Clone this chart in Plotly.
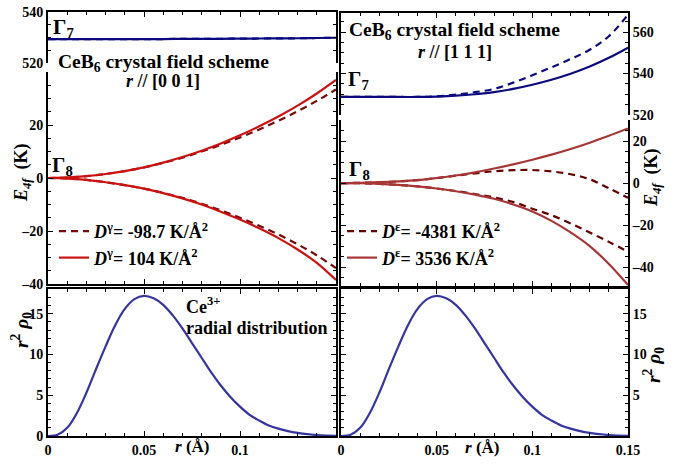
import plotly.graph_objects as go

# ---------------- data ----------------
r_cf = [0.0, 0.01, 0.02, 0.03, 0.04, 0.05, 0.06, 0.07, 0.08, 0.09, 0.10, 0.11, 0.12, 0.13, 0.14, 0.15]

# [0 0 1] direction, Gamma_8 branches (K)
g8_001_up_pos = [0, 0.2, 0.7, 1.5, 2.6, 4.0, 5.8, 7.9, 10.3, 13.0, 16.1, 19.5, 23.2, 27.3, 31.9, 37.0]
g8_001_lo_pos = [0, -0.2, -0.7, -1.6, -2.7, -4.0, -5.7, -7.7, -10.0, -12.7, -15.7, -19.0, -22.7, -27.0, -32.0, -38.5]
g8_001_up_neg = [0, 0.2, 0.7, 1.5, 2.6, 4.0, 5.7, 7.7, 10.0, 12.5, 15.3, 18.3, 21.6, 25.2, 29.1, 33.4]
g8_001_lo_neg = [0, -0.2, -0.7, -1.6, -2.7, -4.0, -5.6, -7.5, -9.7, -12.2, -15.0, -18.0, -21.3, -25.0, -29.2, -34.0]
# [0 0 1] direction, Gamma_7 (K)
g7_001_pos = [529.4, 529.4, 529.4, 529.4, 529.4, 529.4, 529.4, 529.45, 529.5, 529.5, 529.55, 529.6, 529.65, 529.7, 529.8, 529.9]
g7_001_neg = [529.4, 529.4, 529.4, 529.4, 529.4, 529.4, 529.4, 529.45, 529.5, 529.5, 529.55, 529.6, 529.65, 529.7, 529.8, 529.9]

# [1 1 1] direction, Gamma_8 branches (K)
g8_111_up_pos = [0, 0.1, 0.4, 0.8, 1.4, 2.4, 3.6, 5.1, 6.9, 8.9, 11.1, 13.5, 16.2, 19.2, 22.5, 26.0]
g8_111_lo_pos = [0, -0.1, -0.4, -0.9, -1.6, -2.6, -3.9, -5.5, -7.5, -10.2, -13.5, -18.0, -23.5, -30.0, -38.5, -48.5]
g8_111_up_neg = [0, 0.1, 0.4, 0.8, 1.4, 2.4, 3.5, 4.6, 5.6, 6.1, 6.2, 5.5, 4.2, 1.8, -2.5, -7.0]
g8_111_lo_neg = [0, -0.1, -0.4, -0.9, -1.6, -2.6, -3.8, -5.2, -6.9, -9.0, -12.2, -15.3, -19.2, -23.5, -28.0, -32.7]
# [1 1 1] direction, Gamma_7 (K)
g7_111_pos = [528.7, 528.7, 528.7, 528.7, 528.7, 528.9, 529.3, 530.0, 531.0, 532.6, 534.6, 537.0, 539.9, 543.4, 547.6, 552.5]
g7_111_neg = [528.7, 528.7, 528.7, 528.7, 528.7, 529.0, 529.8, 531.0, 532.6, 535.6, 539.2, 543.0, 547.0, 551.5, 558.0, 568.4]

# Ce3+ radial distribution
r_rad = [0.0, 0.005, 0.01, 0.015, 0.02, 0.025, 0.03, 0.035, 0.04, 0.045, 0.05, 0.055, 0.06, 0.065, 0.07,
         0.075, 0.08, 0.085, 0.09, 0.095, 0.10, 0.105, 0.11, 0.115, 0.12, 0.125, 0.13, 0.135, 0.14, 0.145, 0.15]
rho = [0.0, 0.15, 1.0, 2.8, 5.3, 8.2, 11.0, 13.6, 15.6, 16.8, 17.2, 16.9, 16.1, 14.8, 13.2,
       11.4, 9.6, 7.8, 6.2, 4.8, 3.6, 2.6, 1.9, 1.3, 0.9, 0.6, 0.38, 0.22, 0.12, 0.06, 0.03]

x_ticks_left = [0, 0.05, 0.1]
x_ticks_right = [0, 0.05, 0.1, 0.15]

label_001_neg = "<i>D</i><sup>γ</sup>= -98.7 K/Å<sup>2</sup>"
label_001_pos = "<i>D</i><sup>γ</sup>= 104 K/Å<sup>2</sup>"
label_111_neg = "<i>D</i><sup>ε</sup>= -4381 K/Å<sup>2</sup>"
label_111_pos = "<i>D</i><sup>ε</sup>= 3536 K/Å<sup>2</sup>"

# ---------------- styles ----------------
FONT = "Liberation Serif"
NAVY = "#0a0a7e"
RED = "#cc1111"
DRED = "#7a0a0a"
BRN = "#a83636"
DBRN = "#650000"
BLUE = "#3535a0"
LW = 2.2
DASH = "7px,5px"

W, H = 684, 464


def px(x):
    return x / W


def py(y):
    return 1 - y / H


fig = go.Figure()


def branches(r, up, lo):
    return list(r) + [None] + list(r), list(up) + [None] + list(lo)


# top-left Gamma7
fig.add_trace(go.Scatter(x=r_cf, y=g7_001_pos, mode="lines", line=dict(color=NAVY, width=LW, shape="spline"),
                         showlegend=False, xaxis="x", yaxis="y"))
fig.add_trace(go.Scatter(x=r_cf, y=g7_001_neg, mode="lines", line=dict(color=NAVY, width=LW, dash=DASH, shape="spline"),
                         showlegend=False, xaxis="x", yaxis="y"))
# top-left Gamma8
xx, yy = branches(r_cf, g8_001_up_neg, g8_001_lo_neg)
fig.add_trace(go.Scatter(x=xx, y=yy, mode="lines", name=label_001_neg, legend="legend",
                         line=dict(color=DRED, width=LW, dash=DASH, shape="spline"), xaxis="x2", yaxis="y2"))
xx, yy = branches(r_cf, g8_001_up_pos, g8_001_lo_pos)
fig.add_trace(go.Scatter(x=xx, y=yy, mode="lines", name=label_001_pos, legend="legend",
                         line=dict(color=RED, width=LW, shape="spline"), xaxis="x2", yaxis="y2"))
# bottom-left
fig.add_trace(go.Scatter(x=r_rad, y=rho, mode="lines", line=dict(color=BLUE, width=LW, shape="spline"),
                         showlegend=False, xaxis="x3", yaxis="y3"))
# top-right Gamma7
fig.add_trace(go.Scatter(x=r_cf, y=g7_111_pos, mode="lines", line=dict(color=NAVY, width=LW, shape="spline"),
                         showlegend=False, xaxis="x4", yaxis="y4"))
fig.add_trace(go.Scatter(x=r_cf, y=g7_111_neg, mode="lines", line=dict(color=NAVY, width=LW, dash=DASH, shape="spline"),
                         showlegend=False, xaxis="x4", yaxis="y4"))
# top-right Gamma8
xx, yy = branches(r_cf, g8_111_up_neg, g8_111_lo_neg)
fig.add_trace(go.Scatter(x=xx, y=yy, mode="lines", name=label_111_neg, legend="legend2",
                         line=dict(color=DBRN, width=LW, dash=DASH, shape="spline"), xaxis="x5", yaxis="y5"))
xx, yy = branches(r_cf, g8_111_up_pos, g8_111_lo_pos)
fig.add_trace(go.Scatter(x=xx, y=yy, mode="lines", name=label_111_pos, legend="legend2",
                         line=dict(color=BRN, width=LW, shape="spline"), xaxis="x5", yaxis="y5"))
# bottom-right
fig.add_trace(go.Scatter(x=r_rad, y=rho, mode="lines", line=dict(color=BLUE, width=LW, shape="spline"),
                         showlegend=False, xaxis="x6", yaxis="y6"))

tickfont = dict(family=FONT, size=14, color="black", weight="bold")


def xax(domain, side="bottom", mirror=False, labels=False, tickvals=None):
    d = dict(domain=domain, range=[0, 0.15], side=side, showline=True, linewidth=2, linecolor="black",
             mirror=mirror, ticks="inside", ticklen=5, tickwidth=1.2, tickcolor="black",
             showgrid=False, zeroline=False, tickmode="array", automargin=False,
             tickvals=tickvals if tickvals is not None else [0, 0.05, 0.1, 0.15],
             showticklabels=labels, tickfont=tickfont,
             minor=dict(ticks="inside", ticklen=3, tickwidth=1, tickcolor="black", tickmode="linear",
                        tick0=0, dtick=0.01, showgrid=False))
    if tickvals is not None:
        d["ticktext"] = [("%g" % v) for v in tickvals]
    return d


def yax(domain, rng, tickvals, minor_dtick, side="left", anchor="x"):
    return dict(domain=domain, range=rng, side=side, anchor=anchor, showline=True, linewidth=2,
                linecolor="black", mirror="allticks", ticks="inside", ticklen=5, tickwidth=1.2,
                tickcolor="black", showgrid=False, zeroline=False, tickmode="array", tickvals=tickvals,
                automargin=False,
                ticktext=[("%g" % v).replace("-", "\u2013") for v in tickvals], tickfont=tickfont,
                minor=dict(ticks="inside", ticklen=3, tickwidth=1, tickcolor="black", tickmode="linear",
                           tick0=0, dtick=minor_dtick, showgrid=False))


xL = [px(48), px(336)]
xR = [px(341), px(628)]

legend_font = dict(family=FONT, size=18, color="black", weight="bold")

layout = dict(
    width=W, height=H, margin=dict(l=0, r=0, t=0, b=0, autoexpand=False), autosize=False,
    paper_bgcolor="white", plot_bgcolor="white",
    font=dict(family=FONT, size=14, color="black", weight="bold"),
    xaxis=xax(xL, side="top"),
    yaxis=yax([py(63), py(12)], [520, 540], [520, 540], 5, anchor="x"),
    xaxis2=dict(xax(xL), anchor="y2"),
    yaxis2=yax([py(284), py(72)], [-40, 40], [-40, -20, 0, 20], 5, anchor="x2"),
    xaxis3=dict(xax(xL, mirror="allticks", labels=True, tickvals=x_ticks_left), anchor="y3"),
    yaxis3=yax([py(436), py(289)], [0, 18.04], [0, 5, 10, 15], 1, anchor="x3"),
    xaxis4=dict(xax(xR, side="top"), anchor="y4"),
    yaxis4=yax([py(115), py(13)], [520, 569.2], [520, 540, 560], 5, side="right", anchor="x4"),
    xaxis5=dict(xax(xR), anchor="y5"),
    yaxis5=yax([py(286), py(120)], [-49.0, 30.0], [-40, -20, 0, 20], 5, side="right", anchor="x5"),
    xaxis6=dict(xax(xR, mirror="allticks", labels=True, tickvals=x_ticks_right), anchor="y6"),
    yaxis6=yax([py(436), py(289)], [0, 18.04], [5, 10, 15], 1, side="right", anchor="x6"),
    legend=dict(x=px(54), y=py(213), xanchor="left", yanchor="top", bgcolor="rgba(0,0,0,0)",
                font=legend_font, tracegroupgap=0, itemwidth=30),
    legend2=dict(x=px(342), y=py(213), xanchor="left", yanchor="top", bgcolor="rgba(0,0,0,0)",
                 font=legend_font, tracegroupgap=0, itemwidth=30),
)
fig.update_layout(**layout)
fig.layout.xaxis.anchor = "y"


def ann(text, x, y, size=16, xanchor="center", angle=0):
    fig.add_annotation(text=text, x=px(x), y=py(y), xref="paper", yref="paper", showarrow=False,
                       xanchor=xanchor, yanchor="middle", textangle=angle,
                       font=dict(family=FONT, size=size, color="black", weight="bold"))


ann("Γ<sub>7</sub>", 51, 28, size=21, xanchor="left")
ann("CeB<sub>6</sub> crystal field scheme", 163, 63, size=19.5)
ann("<i>r</i> // [0 0 1]", 163, 81, size=18)
ann("Γ<sub>8</sub>", 50, 166, size=21, xanchor="left")
ann("Ce<sup>3+</sup>", 184, 305, size=18, xanchor="left")
ann("radial distribution", 184, 328, size=18, xanchor="left")

ann("CeB<sub>6</sub> crystal field scheme", 454, 31, size=19.5)
ann("<i>r</i> // [1 1 1]", 455, 52, size=18)
ann("Γ<sub>7</sub>", 346, 80, size=21, xanchor="left")
ann("Γ<sub>8</sub>", 347, 170, size=21, xanchor="left")

ann("<i>E</i><sub><i>4f</i></sub>  (K)", 23, 173, size=18, angle=-90)
ann("<i>E</i><sub><i>4f</i></sub>  (K)", 653, 178, size=18, angle=-90)
ann("<i>r</i><sup>2</sup> <i>ρ</i><sub>0</sub>", 21, 330, size=19.5, angle=-90)
ann("<i>r</i><sup>2</sup> <i>ρ</i><sub>0</sub>", 653, 365, size=19.5, angle=-90)
ann("<i>r</i> (Å)", 192, 446, size=17)
ann("<i>r</i> (Å)", 482, 447, size=17)

fig.write_html("out.html", config={"displayModeBar": False},
               post_script="document.body.style.margin='0px';document.body.style.overflow='hidden';")
